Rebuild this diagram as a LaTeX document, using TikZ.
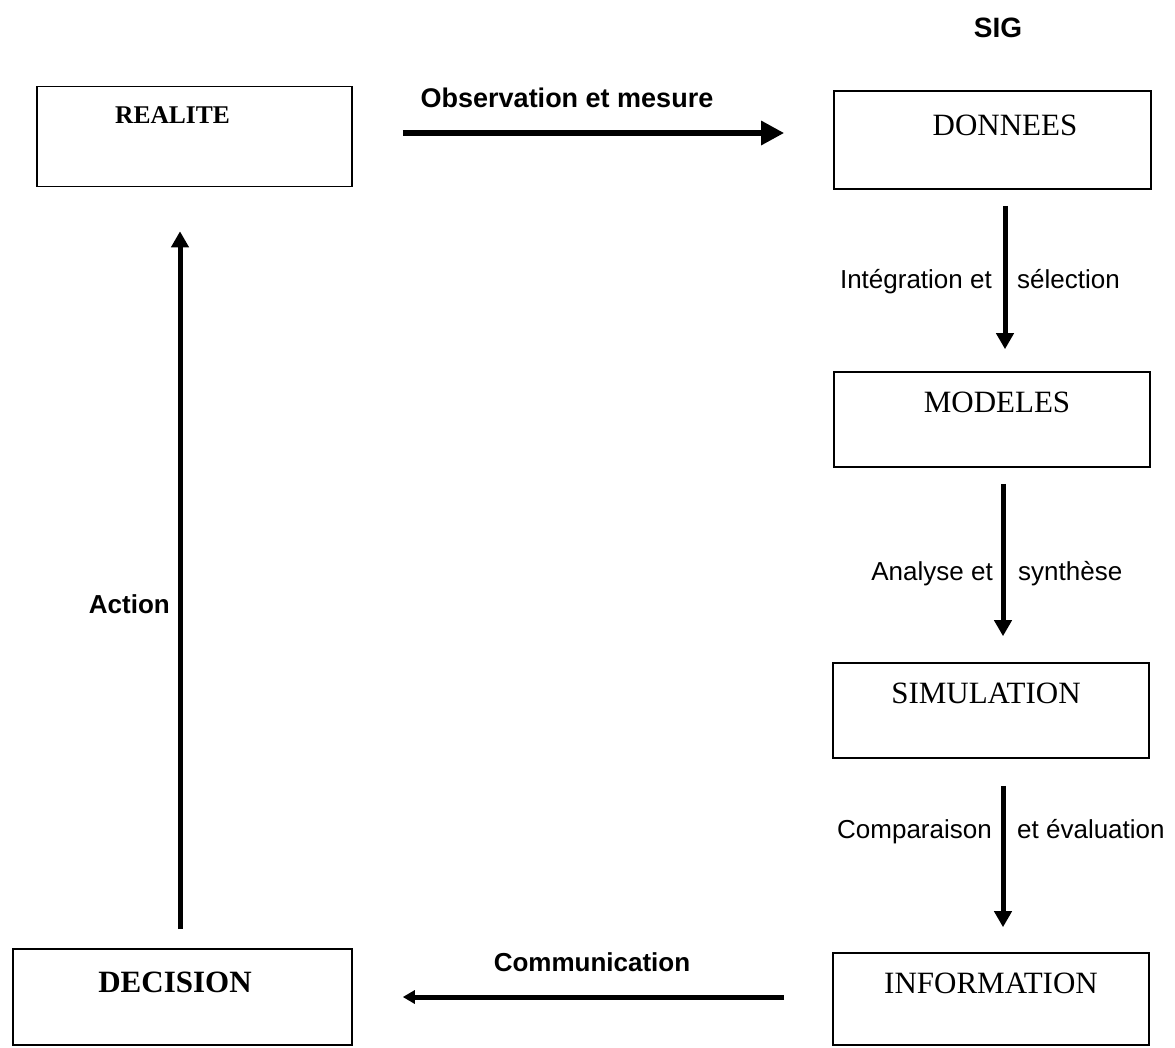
\documentclass[tikz,border=0pt]{standalone}
\usepackage{fontspec}
\setmainfont{Liberation Serif}
\setsansfont{Liberation Sans}
\usetikzlibrary{arrows.meta}
\tikzset{
  box/.style={draw, line width=1.6pt, inner sep=0pt},
  boxtext/.style={inner sep=0pt, font=\fontsize{31}{31}\selectfont},
  boxtextbold/.style={inner sep=0pt, font=\fontsize{31}{31}\selectfont\bfseries},
  lab/.style={inner sep=0pt, text height=19pt, text depth=5pt, font=\sffamily\fontsize{26}{26}\selectfont},
  labbold/.style={inner sep=0pt, font=\sffamily\bfseries\fontsize{27}{27}\selectfont},
  bigarr/.style={line width=6pt, -{Triangle[length=23pt,width=23pt]}},
  varr/.style={line width=5pt, -{Triangle[length=16pt,width=17pt]}},
  smallarr/.style={line width=5pt, -{Triangle[length=12pt,width=13pt]}}
}
\begin{document}
\begin{tikzpicture}[x=1pt,y=-1pt]
\useasboundingbox (0,0) rectangle (1175,1047);
% boxes
\node[box, minimum width=315pt, minimum height=100pt] (realite) at (194.5,136.5) {};
\node[box, minimum width=317pt, minimum height=98pt] (donnees) at (992.5,140) {};
\node[box, minimum width=316pt, minimum height=95pt] (modeles) at (992,419.5) {};
\node[box, minimum width=316pt, minimum height=95pt] (simulation) at (991,710.5) {};
\node[box, minimum width=316pt, minimum height=92pt] (information) at (991,999) {};
\node[box, minimum width=339pt, minimum height=96pt] (decision) at (182.5,997) {};
% box texts
\node[inner sep=0pt, font=\fontsize{25.5}{25.5}\selectfont\bfseries] (trealite) at (172.5,115) {REALITE};
\node[boxtext] (tdonnees) at (1005,125) {DONNEES};
\node[boxtext] (tmodeles) at (997,402) {MODELES};
\node[boxtext] (tsimulation) at (986,693) {SIMULATION};
\node[boxtext] (tinformation) at (991,983) {INFORMATION};
\node[boxtextbold] (tdecision) at (175,982) {DECISION};
% title
\node[inner sep=0pt, font=\sffamily\bfseries\fontsize{28}{28}\selectfont] (sig) at (998,28) {SIG};
% connectors
\draw[bigarr, shorten <=50pt, shorten >=49pt] ([yshift=3.5pt]realite.east) -- ([yshift=7pt]donnees.west);
\draw[varr, shorten <=16pt, shorten >=22pt] ([xshift=12.5pt]donnees.south) -- ([xshift=13pt]modeles.north);
\draw[varr, shorten <=16pt, shorten >=26pt] ([xshift=11pt]modeles.south) -- ([xshift=12pt]simulation.north);
\draw[varr, shorten <=27pt, shorten >=25pt] ([xshift=12pt]simulation.south) -- ([xshift=12pt]information.north);
\draw[smallarr, shorten <=48pt, shorten >=50pt] ([yshift=2pt]information.west) -- (decision.east);
\draw[varr, shorten <=19pt, shorten >=44pt] ([xshift=-2.5pt]decision.north) -- ([xshift=-14.5pt]realite.south);
% connector labels
\node[labbold] (lobs) at (567,98) {Observation et mesure};
\node[labbold, font=\sffamily\bfseries\fontsize{26}{26}\selectfont] (lcomm) at (592,962) {Communication};
\node[labbold, font=\sffamily\bfseries\fontsize{26}{26}\selectfont, anchor=east] (laction) at (170,604) {Action};
\node[lab, anchor=east] (lint1) at (992,281) {Intégration et};
\node[lab, anchor=west] (lint2) at (1017,281) {sélection};
\node[lab, anchor=east] (lana1) at (993,573) {Analyse et};
\node[lab, anchor=west] (lana2) at (1018,573) {synthèse};
\node[lab, anchor=east] (lcmp1) at (992,831) {Comparaison};
\node[lab, anchor=west] (lcmp2) at (1017,831) {et évaluation};
\end{tikzpicture}
\end{document}
